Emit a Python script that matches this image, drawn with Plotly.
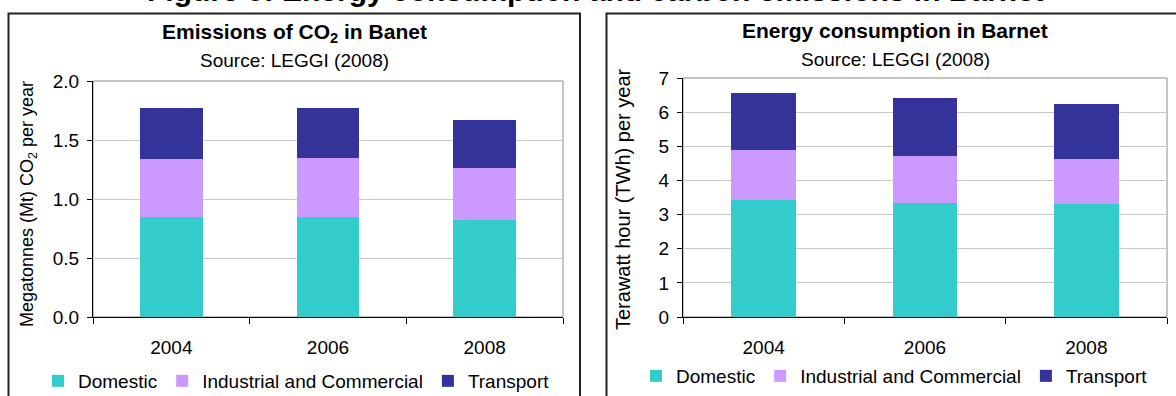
import plotly.graph_objects as go

W, H = 1176, 396

years = ["2004", "2006", "2008"]
series_names = ["Domestic", "Industrial and Commercial", "Transport"]
colors = ["#33CCCC", "#CC99FF", "#333399"]

# Emissions of CO2 (Mt per year)
co2_domestic = [0.845, 0.845, 0.82]
co2_industrial = [0.49, 0.50, 0.44]
co2_transport = [0.44, 0.43, 0.41]

# Energy consumption (TWh per year)
en_domestic = [3.42, 3.34, 3.30]
en_industrial = [1.48, 1.39, 1.33]
en_transport = [1.67, 1.67, 1.61]

co2_ticks = [0.0, 0.5, 1.0, 1.5, 2.0]
en_ticks = [0, 1, 2, 3, 4, 5, 6, 7]

FONT = "Liberation Sans, Arial, sans-serif"


def px(x):
    return x / W


def py(y):
    return 1 - y / H


fig = go.Figure()

for name, vals, col in zip(series_names, [co2_domestic, co2_industrial, co2_transport], colors):
    fig.add_trace(go.Bar(x=years, y=vals, name=name, marker=dict(color=col, line=dict(width=0)),
                         xaxis="x", yaxis="y", legend="legend"))
for name, vals, col in zip(series_names, [en_domestic, en_industrial, en_transport], colors):
    fig.add_trace(go.Bar(x=years, y=vals, name=name, marker=dict(color=col, line=dict(width=0)),
                         xaxis="x2", yaxis="y2", legend="legend2"))

tickfont = dict(family=FONT, size=19, color="black")

xcommon = dict(type="category", showline=True, linecolor="black", linewidth=1,
               ticks="outside", tickson="boundaries", ticklen=6, tickcolor="black",
               showgrid=False, tickfont=tickfont, ticklabelstandoff=13, fixedrange=True,
               automargin=False)
ycommon = dict(showline=True, linecolor="black", linewidth=1, ticks="outside",
               ticklen=5, tickcolor="black", showgrid=True, gridcolor="#C8C8C8",
               gridwidth=1, tickfont=tickfont, zeroline=False, ticklabelstandoff=4,
               fixedrange=True, automargin=False)

fig.update_layout(
    width=W, height=H,
    margin=dict(l=0, r=0, t=0, b=0, autoexpand=False),
    paper_bgcolor="white", plot_bgcolor="white",
    barmode="stack", bargap=0.6,
    font=dict(family=FONT, color="black"),
    xaxis=dict(domain=[px(93), px(563)], anchor="y", **xcommon),
    yaxis=dict(domain=[py(317), py(81)], anchor="x", range=[0, 2], tickvals=co2_ticks,
               tickformat=".1f", **ycommon),
    xaxis2=dict(domain=[px(683), px(1167)], anchor="y2", **xcommon),
    yaxis2=dict(domain=[py(317), py(78)], anchor="x2", range=[0, 7], tickvals=en_ticks,
                **ycommon),
    legend=dict(orientation="h", x=px(38), xanchor="left", y=py(381), yanchor="middle",
                font=dict(family=FONT, size=19), traceorder="normal",
                bgcolor="rgba(0,0,0,0)"),
    legend2=dict(orientation="h", x=px(636), xanchor="left", y=py(376), yanchor="middle",
                 font=dict(family=FONT, size=19), traceorder="normal",
                 bgcolor="rgba(0,0,0,0)"),
)

shapes = [
    # outer frames
    dict(type="rect", xref="paper", yref="paper", x0=px(8.5), x1=px(580), y0=-0.2, y1=py(13.5),
         line=dict(color="#222222", width=2), fillcolor="rgba(0,0,0,0)", layer="below"),
    dict(type="rect", xref="paper", yref="paper", x0=px(606.5), x1=1.1, y0=-0.2, y1=py(13.5),
         line=dict(color="#222222", width=2), fillcolor="rgba(0,0,0,0)", layer="below"),
    # plot area borders (grey)
    dict(type="rect", xref="x domain", yref="y domain", x0=0, x1=1, y0=0, y1=1,
         line=dict(color="#8C8C8C", width=1), layer="below"),
    dict(type="rect", xref="x2 domain", yref="y2 domain", x0=0, x1=1, y0=0, y1=1,
         line=dict(color="#8C8C8C", width=1), layer="below"),
]
fig.update_layout(shapes=shapes)

ann = [
    dict(text="<b>Figure 5: Energy consumption and carbon emissions in Barnet</b>",
         x=px(595), y=py(9), xanchor="center", yanchor="bottom",
         font=dict(family=FONT, size=30, color="black")),
    dict(text="<b>Emissions of CO<sub>2</sub> in Banet</b>", x=px(295), y=py(33),
         xanchor="center", yanchor="middle", font=dict(family=FONT, size=21)),
    dict(text="Source: LEGGI (2008)", x=px(295), y=py(61), xanchor="center", yanchor="middle",
         font=dict(family=FONT, size=19)),
    dict(text="<b>Energy consumption in Barnet</b>", x=px(895), y=py(30),
         xanchor="center", yanchor="middle", font=dict(family=FONT, size=21)),
    dict(text="Source: LEGGI (2008)", x=px(895), y=py(59), xanchor="center", yanchor="middle",
         font=dict(family=FONT, size=19)),
    dict(text="Megatonnes (Mt) CO<sub>2</sub> per year", x=px(28), y=py(204), textangle=-90,
         xanchor="center", yanchor="middle", font=dict(family=FONT, size=18)),
    dict(text="Terawatt hour (TWh) per year", x=px(623), y=py(199), textangle=-90,
         xanchor="center", yanchor="middle", font=dict(family=FONT, size=20)),
]
for a in ann:
    a.update(xref="paper", yref="paper", showarrow=False)
fig.update_layout(annotations=ann)

fig.write_html("out.html", config={"displayModeBar": False})
